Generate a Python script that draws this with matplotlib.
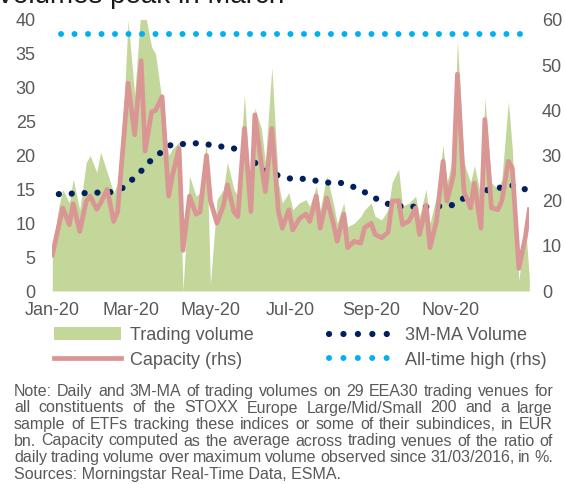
import numpy as np
import pandas as pd
import matplotlib.pyplot as plt
from matplotlib.patches import Patch
from matplotlib.lines import Line2D

plt.rcParams['font.family'] = ['Liberation Sans', 'DejaVu Sans']

# every third trading day of 2020
dates = pd.bdate_range('2020-01-01', '2020-12-31')[::3]

# daily trading volume, EUR bn (lhs)
volume = [6, 12.5, 15, 13, 16.5, 12, 19, 20, 17.5, 20.5,
          17.5, 14.5, 16, 28, 40, 29, 42, 41, 36, 35,
          28, 20, 21, 22, 0, 17, 14, 14.5, 22, 1,
          13.5, 15, 19, 15, 14, 29, 14, 27, 24, 19,
          33, 16, 13, 14.5, 12, 13, 13.5, 12.5, 15.5, 12,
          17, 13, 10, 13, 9.5, 10, 11, 12, 13, 11,
          10.5, 12, 16, 18, 12.5, 13, 14, 11, 15, 10,
          14, 21.5, 16, 20, 37, 19, 16, 18.5, 14, 28.5,
          16, 15, 16.5, 28, 21, 1.5, 10, 2]

# capacity, % (rhs)
capacity = [8, 14.5, 18.4, 14.7, 19.3, 13.2, 19.9, 21, 18.1, 19.5,
            22.5, 15.4, 17.6, 35, 46, 34.6, 51, 31, 39.7, 40,
            43, 21, 25.7, 31.6, 9, 21, 17, 17.5, 30, 20,
            15, 19, 23.5, 17.5, 16.5, 36, 17.6, 39, 28, 22,
            36, 17.6, 13.9, 18, 13.5, 16, 17, 15.4, 21, 13.9,
            20.6, 15, 11, 17, 9.6, 11, 10.6, 14, 15, 12.5,
            11.8, 13, 19.9, 20, 14.7, 15.5, 18.4, 12.5, 19, 9.6,
            15.5, 28.7, 19.9, 25.7, 48, 22, 18.4, 23.9, 13.9, 38,
            18.4, 18, 20, 28.7, 27.2, 5, 12, 18]

# 3-month moving average of volume (lhs)
ma_dates = pd.to_datetime(['2020-01-06', '2020-02-15', '2020-02-25', '2020-03-03',
                           '2020-03-10', '2020-03-17', '2020-04-01', '2020-04-20',
                           '2020-04-30', '2020-05-20', '2020-06-05', '2020-06-13',
                           '2020-06-21', '2020-07-01', '2020-07-09', '2020-07-20',
                           '2020-07-29', '2020-08-08', '2020-08-18', '2020-08-26',
                           '2020-09-04', '2020-09-13', '2020-09-23', '2020-10-12',
                           '2020-11-01', '2020-11-11', '2020-11-19', '2020-11-29',
                           '2020-12-10', '2020-12-19', '2020-12-28'])
ma_volume = [14.3, 14.6, 15.3, 16.6, 17.9, 19.4, 21.6, 21.8, 21.6, 21.0, 18.8, 17.6,
             17.1, 16.6, 16.6, 16.3, 16.0, 16.0, 15.4, 14.7, 13.7, 12.9, 12.5, 12.4,
             12.6, 13.7, 14.4, 14.9, 15.3, 15.6, 15.0]

# all-time high of capacity (rhs)
ath_dates = pd.to_datetime(['2020-01-08', '2020-12-25'])
ath_level = [57, 57]

grey = '#595959'
W, H = 565, 484
fig = plt.figure(figsize=(W / 100, H / 100), dpi=100)
ax = fig.add_axes([52.3 / W, 1 - 291 / H, 477 / W, 271 / H])

ax.fill_between(dates, volume, color='#C4D79B', lw=0, zorder=1)
ax.plot(ma_dates, ma_volume, color='#002060', lw=4.5,
        linestyle=(0, (0.01, 2.05)), dash_capstyle='round', zorder=3)
ax.set_ylim(0, 40)
ax.set_yticks(range(0, 41, 5))
ax.set_xlim(pd.Timestamp('2020-01-01'), pd.Timestamp('2020-12-31'))
xt = pd.to_datetime(['2020-01-01', '2020-03-01', '2020-05-01',
                     '2020-07-01', '2020-09-01', '2020-11-01'])
ax.set_xticks(xt)
ax.set_xticklabels([d.strftime('%b-%y') for d in xt])

ax2 = ax.twinx()
ax2.plot(dates, capacity, color='#D99694', lw=3.4, zorder=2)
ax2.plot(ath_dates, ath_level, color='#00B0F0', lw=4.3,
         linestyle=(0, (0.01, 2.25)), dash_capstyle='round')
ax2.set_ylim(0, 60)
ax2.set_yticks(range(0, 61, 10))

for a in (ax, ax2):
    for s in a.spines.values():
        s.set_visible(False)
    a.tick_params(length=0, labelsize=13, colors=grey)
ax.tick_params(axis='y', pad=12)
ax.tick_params(axis='x', pad=8)
ax2.tick_params(axis='y', pad=9)

handles = [Patch(facecolor='#C4D79B', edgecolor='none'),
           Line2D([], [], color='#D99694', lw=3.4),
           Line2D([], [], color='#002060', lw=4.5, linestyle=(0, (0.01, 2.3)),
                  dash_capstyle='round'),
           Line2D([], [], color='#00B0F0', lw=4.3, linestyle=(0, (0.01, 2.4)),
                  dash_capstyle='round')]
labels = ['Trading volume', 'Capacity (rhs)', '3M-MA Volume', 'All-time high (rhs)']
fig.legend(handles, labels, ncol=2, loc='upper left',
           bbox_to_anchor=(54 / W, 1 - 327 / H), frameon=False, fontsize=13,
           labelcolor=grey, handlelength=3.7, handletextpad=0.5,
           columnspacing=4.2, borderpad=0, borderaxespad=0, labelspacing=0.42)

fig.text(-4 / W, 1 - 3 / H, 'Volumes peak in March', fontsize=20,
         color='#1a1a1a', va='baseline', ha='left')

note_lines = [
    'Note: Daily and 3M-MA of trading volumes on 29 EEA30 trading venues for',
    'all constituents of the STOXX Europe Large/Mid/Small 200 and a large',
    'sample of ETFs tracking these indices or some of their subindices, in EUR',
    'bn. Capacity computed as the average across trading venues of the ratio of',
    'daily trading volume over maximum volume observed since 31/03/2016, in %.',
    'Sources: Morningstar Real-Time Data, ESMA.',
]
renderer = fig.canvas.get_renderer()
x0, x1 = 14, 553
for i, line in enumerate(note_lines):
    yb = 1 - (396 + i * 16.5) / H
    if i == len(note_lines) - 1:
        fig.text(x0 / W, yb, line, fontsize=11.5, color=grey, va='baseline')
        continue
    words = line.split(' ')
    texts = [fig.text(0, yb, w, fontsize=11.5, color=grey, va='baseline') for w in words]
    widths = [t.get_window_extent(renderer).width for t in texts]
    gap = max((x1 - x0 - sum(widths)) / (len(words) - 1), 2.5)
    x = x0
    for t, w in zip(texts, widths):
        t.set_x(x / W)
        x += w + gap

fig.savefig('out.png', dpi=100)
